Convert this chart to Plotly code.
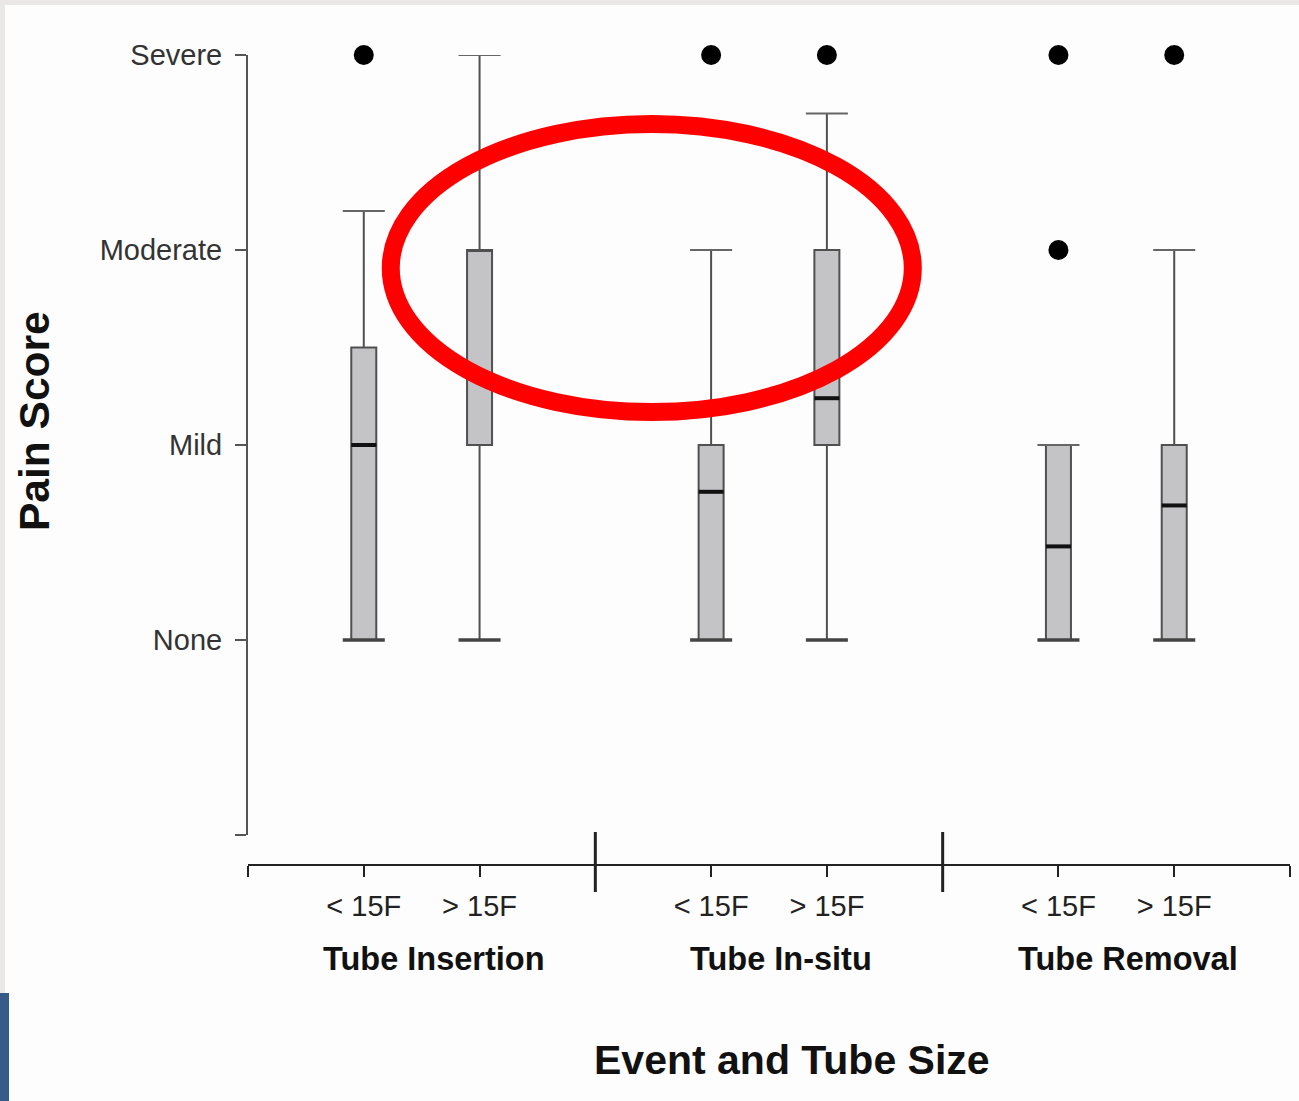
import plotly.graph_objects as go

# ---------------- data ----------------
GROUPS = ["Tube Insertion", "Tube In-situ", "Tube Removal"]
SIZES = ["< 15F", "> 15F"]
POSITIONS = [0, 1, 3, 4, 6, 7]           # category slots on the x axis
GROUP_CENTERS = [0.5, 3.5, 6.5]
DIVIDERS = [2, 5]
X_ENDS = [-1, 8]

Q1 = [0.0, 1.0, 0.0, 1.0, 0.0, 0.0]
MEDIAN = [1.0, 2.0, 0.76, 1.24, 0.48, 0.69]
Q3 = [1.5, 2.0, 1.0, 2.0, 1.0, 1.0]
LOWER = [0.0, 0.0, 0.0, 0.0, 0.0, 0.0]
UPPER = [2.2, 3.0, 2.0, 2.7, 1.0, 2.0]
OUTLIERS = [[3], [], [3], [3], [2, 3], [3]]

Y_TICKS = [-1, 0, 1, 2, 3]
Y_LABELS = ["", "None", "Mild", "Moderate", "Severe"]

HIGHLIGHT_X = [0.233, 4.742]   # red ellipse extent (data units)
HIGHLIGHT_Y = [1.169, 2.646]

# ---------------- style ----------------
FONT = "Liberation Sans, Arial, sans-serif"
W, H = 1299, 1101
ML, MR, MT, MB = 248, 9, 55, 236
PW, PH = W - ML - MR, H - MT - MB
BOX_W = 0.216
CAP_HALF = 0.1816


def px_x(px):
    return (px - ML) / PW


def px_y(py):
    return (H - MB - py) / PH


fig = go.Figure()

fig.add_trace(go.Box(
    x=POSITIONS, q1=Q1, median=MEDIAN, q3=Q3,
    lowerfence=LOWER, upperfence=UPPER,
    width=BOX_W, whiskerwidth=0, boxpoints=False,
    fillcolor="#c4c4c7", line=dict(color="#505050", width=2),
    hoverinfo="skip", showlegend=False,
))

# whisker caps
def seg(vals, half):
    xs, ys = [], []
    for p, v in zip(POSITIONS, vals):
        xs += [p - half, p + half, None]
        ys += [v, v, None]
    return xs, ys

cx, cy = seg(UPPER, CAP_HALF)
fig.add_trace(go.Scatter(x=cx, y=cy, mode="lines",
                         line=dict(color="#666666", width=2),
                         hoverinfo="skip", showlegend=False, cliponaxis=False))
cx, cy = seg(LOWER, CAP_HALF)
fig.add_trace(go.Scatter(x=cx, y=cy, mode="lines",
                         line=dict(color="#444444", width=3.5),
                         hoverinfo="skip", showlegend=False, cliponaxis=False))

# thick medians (only where inside the box)
mx, my = [], []
for p, a, m, b in zip(POSITIONS, Q1, MEDIAN, Q3):
    if a < m < b:
        mx += [p - BOX_W / 2, p + BOX_W / 2, None]
        my += [m, m, None]
fig.add_trace(go.Scatter(x=mx, y=my, mode="lines",
                         line=dict(color="#111111", width=4),
                         hoverinfo="skip", showlegend=False))

# outliers
ox, oy = [], []
for p, outs in zip(POSITIONS, OUTLIERS):
    for v in outs:
        ox.append(p)
        oy.append(v)
fig.add_trace(go.Scatter(x=ox, y=oy, mode="markers",
                         marker=dict(color="black", size=20),
                         hoverinfo="skip", showlegend=False, cliponaxis=False))

shapes = []
for d in DIVIDERS:
    shapes.append(dict(type="line", xref="x", yref="paper", x0=d, x1=d,
                       y0=px_y(892), y1=px_y(832),
                       line=dict(color="#222222", width=3)))
shapes.append(dict(type="circle", xref="x", yref="y",
                   x0=HIGHLIGHT_X[0], x1=HIGHLIGHT_X[1],
                   y0=HIGHLIGHT_Y[0], y1=HIGHLIGHT_Y[1],
                   line=dict(color="#ff0000", width=18)))
# screenshot frame decorations
shapes.append(dict(type="rect", xref="paper", yref="paper", layer="above",
                   x0=px_x(0), x1=px_x(W), y0=px_y(0), y1=px_y(5),
                   fillcolor="#ebe7e6", line=dict(width=0)))
shapes.append(dict(type="rect", xref="paper", yref="paper", layer="above",
                   x0=px_x(0), x1=px_x(5), y0=px_y(0), y1=px_y(993),
                   fillcolor="#ebe7e6", line=dict(width=0)))
shapes.append(dict(type="rect", xref="paper", yref="paper", layer="above",
                   x0=px_x(0), x1=px_x(9), y0=px_y(993), y1=px_y(H),
                   fillcolor="#365b8a", line=dict(width=0)))

annotations = []
for c, g in zip(GROUP_CENTERS, GROUPS):
    annotations.append(dict(x=c, xref="x", y=px_y(959), yref="paper",
                            text=g, showarrow=False, xanchor="center",
                            yanchor="middle", xshift=12,
                            font=dict(family=FONT, size=32.5, color="#111111",
                                      weight="bold")))
annotations.append(dict(x=px_x(792), xref="paper", y=px_y(1060), yref="paper",
                        text="Event and Tube Size", showarrow=False,
                        xanchor="center", yanchor="middle",
                        font=dict(family=FONT, size=41, color="#111111",
                                  weight="bold")))
annotations.append(dict(x=px_x(34), xref="paper", y=px_y(421), yref="paper",
                        text="Pain Score", showarrow=False, textangle=-90,
                        xanchor="center", yanchor="middle",
                        font=dict(family=FONT, size=42.5, color="#111111",
                                  weight="bold")))

x_tickvals = [X_ENDS[0]] + POSITIONS + [X_ENDS[1]]
x_ticktext = [""] + SIZES * len(GROUPS) + [""]

fig.update_layout(
    width=W, height=H, autosize=False,
    margin=dict(l=ML, r=MR, t=MT, b=MB, pad=0),
    paper_bgcolor="#fdfdfd", plot_bgcolor="#fdfdfd",
    font=dict(family=FONT, color="#222222"),
    shapes=shapes, annotations=annotations, showlegend=False,
    xaxis=dict(range=[X_ENDS[0], X_ENDS[1]], showline=True, linecolor="#222222",
               linewidth=2, ticks="outside", ticklen=11, tickwidth=2,
               tickcolor="#222222", tickvals=x_tickvals, ticktext=x_ticktext,
               ticklabelstandoff=4,
               tickfont=dict(family=FONT, size=29, color="#222222"),
               anchor="free", position=0, showgrid=False, zeroline=False,
               fixedrange=True),
    yaxis=dict(range=[-1, 3], domain=[30 / PH, 1], showline=True,
               linecolor="#555555", linewidth=2, ticks="outside", ticklen=11,
               tickwidth=2, tickcolor="#555555", tickvals=Y_TICKS,
               ticktext=Y_LABELS, ticklabelstandoff=7,
               tickfont=dict(family=FONT, size=29, color="#333333"),
               showgrid=False, zeroline=False, fixedrange=True),
)

fig.write_html("out.html")
